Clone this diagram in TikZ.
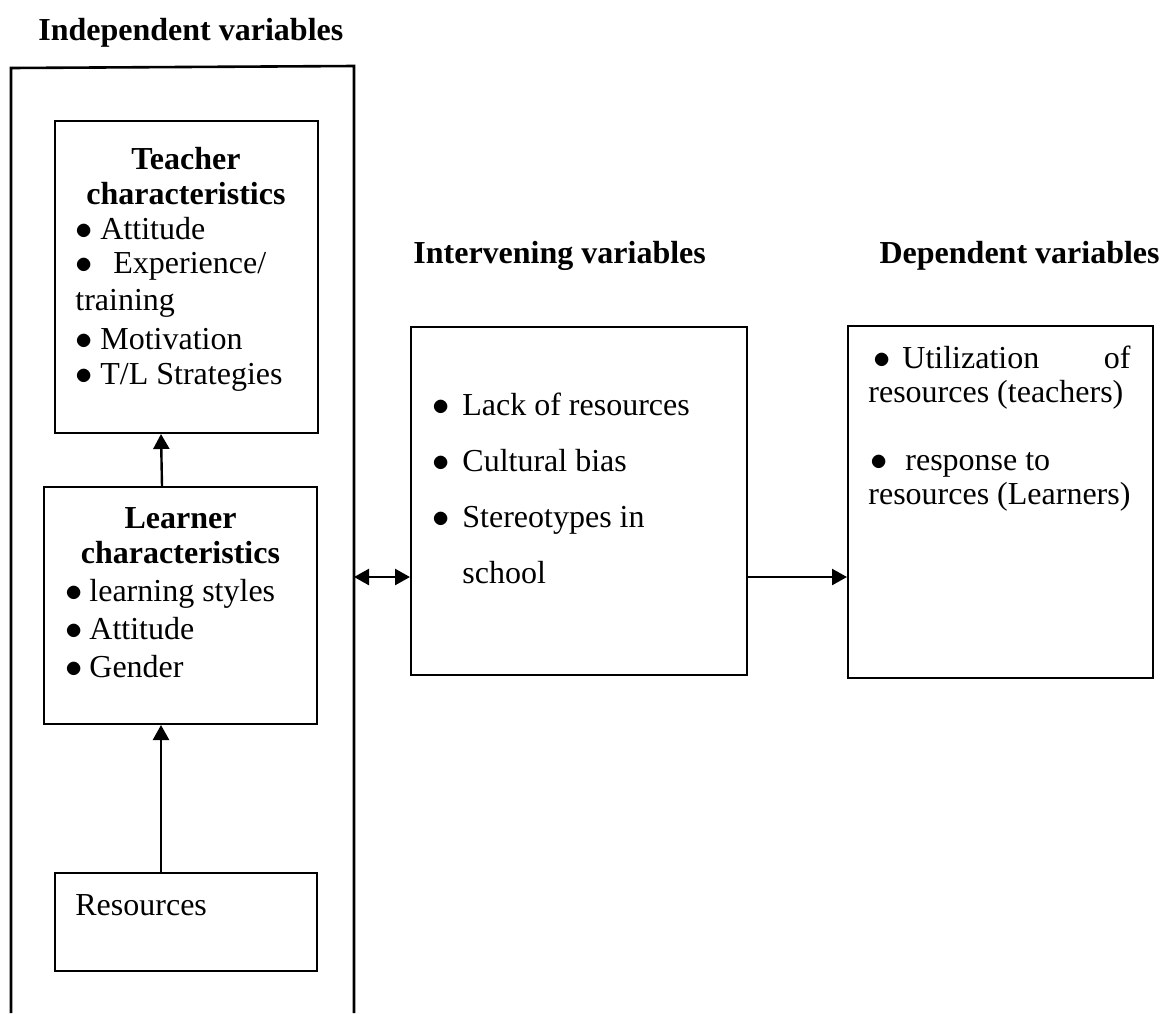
\documentclass[tikz,border=0pt]{standalone}
\usepackage{fontspec}
\setmainfont{Liberation Serif}
\usetikzlibrary{arrows.meta,fit}
\newcommand\mybul[1]{\makebox[#1][l]{$\bullet$}}
\begin{document}
\begin{tikzpicture}[x=0.5pt,y=-0.5pt,
  box/.style={draw, line width=1pt, inner sep=0pt},
  txt/.style={anchor=base west, inner sep=0pt, font=\fontsize{16pt}{18.4pt}\selectfont},
  hd/.style={anchor=base, inner sep=0pt, font=\fontsize{16pt}{18.4pt}\selectfont\bfseries},
  ttl/.style={anchor=base west, inner sep=0pt, font=\fontsize{16pt}{18.4pt}\selectfont\bfseries},
  arr/.style={line width=1.2pt, -{Triangle[length=7.5pt,width=8pt]}},
  darr/.style={line width=1.2pt, {Triangle[length=7.5pt,width=8pt]}-{Triangle[length=7.5pt,width=8pt]}}]
\useasboundingbox (0,0) rectangle (1166,1013);
% titles
\node[ttl] (t1) at (38,40) {Independent variables};
\node[ttl] (t2) at (413,263) {Intervening variables};
\node[ttl,anchor=base east] (t3) at (1160,263) {Dependent variables};
% outer frame
\draw[line width=1.3pt] (11,1013) -- (11,68) -- (354,66) -- (354,1013);
\coordinate (ob) at (354,577);
% boxes
\node[box, fit={(55,121) (318,433)}] (tch) {};
\node[box, fit={(44,487) (317,724)}] (lrn) {};
\node[box, fit={(55,873) (317,971)}] (res) {};
\node[box, fit={(411,327) (747,675)}] (int) {};
\node[box, fit={(848,326) (1153,678)}] (dep) {};
% teacher text
\node[hd] (th1) at (186,169) {Teacher};
\node[hd] (th2) at (186,204) {characteristics};
\node[txt] (ta) at (75,239) {\mybul{12.5pt}Attitude};
\node[txt] (tb) at (75,273) {\mybul{19pt}Experience/};
\node[txt] (tc) at (75,310) {training};
\node[txt] (td) at (75,349) {\mybul{12.5pt}Motivation};
\node[txt] (te) at (75,384) {\mybul{12.5pt}T/L Strategies};
% learner text
\node[hd] (lh1) at (180.5,528) {Learner};
\node[hd] (lh2) at (180.5,563) {characteristics};
\node[txt] (la) at (65,601) {\mybul{12pt}learning styles};
\node[txt] (lb) at (65,639) {\mybul{12pt}Attitude};
\node[txt] (lc) at (65,677) {\mybul{12pt}Gender};
% resources text
\node[txt] (ra) at (75,915) {Resources};
% intervening text
\node[txt] (ia) at (432,415) {\mybul{15pt}Lack of resources};
\node[txt] (ib) at (432,471) {\mybul{15pt}Cultural bias};
\node[txt] (ic) at (432,527) {\mybul{15pt}Stereotypes in};
\node[txt] (id) at (462,583) {school};
% dependent text
\node[txt] (da) at (873,368) {\makebox[128.5pt][s]{\mybul{14.5pt}Utilization\hfill of}};
\node[txt] (db) at (868,402) {resources (teachers)};
\node[txt] (dc) at (870,470) {\mybul{17.5pt}response to};
\node[txt] (dd) at (868,504) {resources (Learners)};
% connectors
\coordinate (c1) at (161,0);
\coordinate (c2) at (162,0);
\draw[arr] (res.north -| c1) -- (lrn.south -| c1);
\draw[arr] (lrn.north -| c2) -- (tch.south -| c1);
\draw[darr] (ob) -- (int.west |- ob);
\draw[arr] (int.east |- ob) -- (dep.west |- ob);
\end{tikzpicture}
\end{document}
